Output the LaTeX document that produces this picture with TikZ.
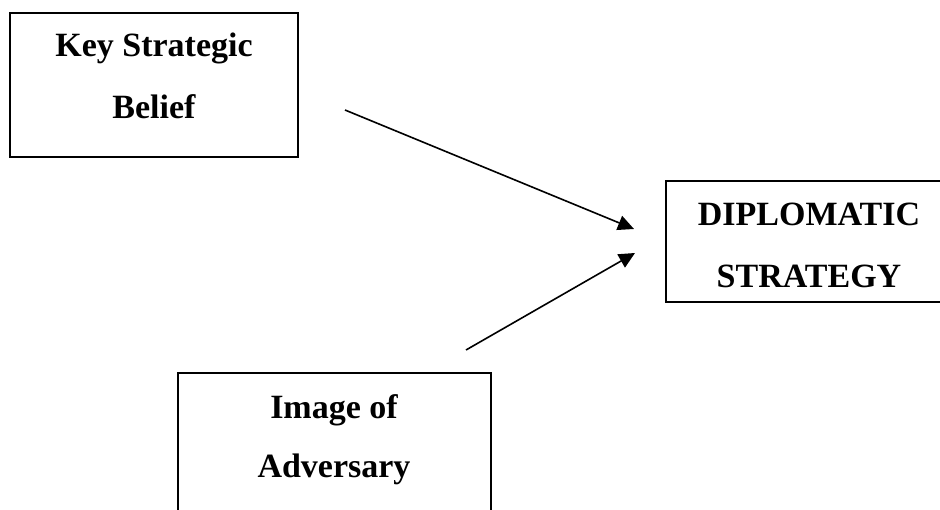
\documentclass[tikz,border=0pt]{standalone}
\usepackage{fontspec}
\setmainfont{Liberation Serif}
\usetikzlibrary{arrows.meta}
\begin{document}
\begin{tikzpicture}[x=1pt,y=-1pt,
  boxstyle/.style={draw=black,line width=1.6pt,rectangle,inner sep=0pt},
  lbl/.style={anchor=base,inner sep=0pt,font=\fontsize{34}{40}\selectfont\bfseries},
  conn/.style={line width=1.6pt,-{Triangle[length=16pt,width=15pt]}}]
\useasboundingbox (0,0) rectangle (940,510);
\clip (0,0) rectangle (940,510);
\node[boxstyle,minimum width=288pt,minimum height=144pt] (ksb) at (154,85) {};
\node[boxstyle,minimum width=290pt,minimum height=121pt] (dip) at (811,241.5) {};
\node[boxstyle,minimum width=313pt,minimum height=160pt] (img) at (334.5,453) {};
\node[lbl] (t1) at (154,57) {Key Strategic};
\node[lbl] (t2) at (154,119) {Belief};
\node[lbl] (t3) at (809,226) {DIPLOMATIC};
\node[lbl] (t4) at (809,288) {STRATEGY};
\node[lbl] (t5) at (334,419) {Image of};
\node[lbl] (t6) at (334,478) {Adversary};
\coordinate (a1s) at (345,110);
\coordinate (a1e) at (634,229);
\coordinate (a2s) at (466,350);
\coordinate (a2e) at (635,253);
\draw[conn] (a1s) -- (a1e);
\draw[conn] (a2s) -- (a2e);
\end{tikzpicture}
\end{document}
